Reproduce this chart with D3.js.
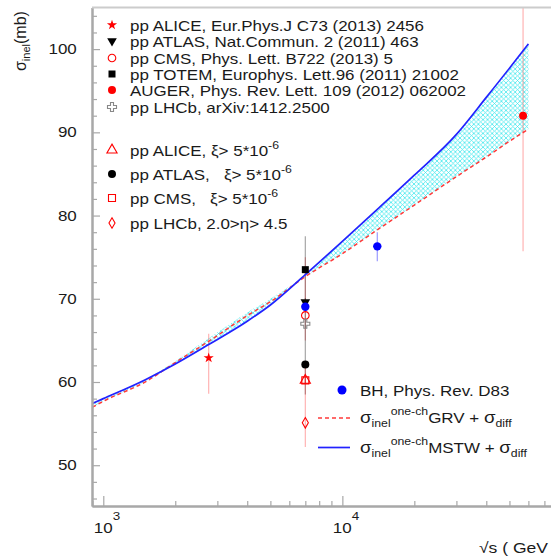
<!DOCTYPE html>
<html><head><meta charset="utf-8">
<script src="https://cdn.jsdelivr.net/npm/d3@7"></script>
<style>body{margin:0;background:#fff}svg{display:block;font-family:"Liberation Sans",Arial,Helvetica,sans-serif}text{white-space:pre}</style>
</head><body><svg id="c" width="551" height="559"></svg>
<script>
// ---- data ----
const energies   = [900,1000,1500,2000,2760,4000,5000,7000,10000,14000,20000,30000,40000,57000,60000];
const sigmaMSTW  = [57.42,58.0,60.28,62.16,64.5,67.3,69.25,72.9,76.9,80.74,84.85,89.75,94.2,99.8,100.63];
const sigmaGRV   = [56.97,57.68,60.02,62.34,64.89,67.97,69.65,72.66,75.42,78.28,81.26,84.68,87.03,89.98,90.36];
const bandUpper  = [57.42,58.0,60.3,62.5,65.25,68.35,70.0,72.9,76.9,80.74,84.85,89.75,94.2,99.8,100.63];

const ptEnergy = [2760,7000,7000,7000,57000,7000,7000,7000,7000,7000];
const ptSigma  = [62.9,69.6,68.0,73.5,92.0,67.0,60.2,62.1,60.2,55.1];
const ptErrLo  = [58.6,69.1,65.0,69.5,75.7,66.5,59.8,58.5,59.8,52.2];
const ptErrHi  = [65.8,70.1,75.0,77.5,106.0,67.5,60.6,69.5,60.6,62.0];
const ptLabels = [
  "pp ALICE, Eur.Phys.J C73 (2013) 2456",
  "pp ATLAS, Nat.Commun. 2 (2011) 463",
  "pp CMS, Phys. Lett. B722 (2013) 5",
  "pp TOTEM, Europhys. Lett.96 (2011) 21002",
  "AUGER, Phys. Rev. Lett. 109 (2012) 062002",
  "pp LHCb, arXiv:1412.2500",
  "pp ALICE, ξ> 5*10",
  "pp ATLAS,   ξ> 5*10",
  "pp CMS,   ξ> 5*10",
  "pp LHCb, 2.0>η> 4.5"
];
const ptSup = ["","","","","","","-6","-6","-6",""];

const bhEnergy = [7000,14000];
const bhSigma  = [69.05,76.3];
const bhErrLo  = [69.05,74.5];
const bhErrHi  = [69.05,78.0];

const yMajor = [50,60,70,80,90,100];
const yMinor = d3.range(46,105,2).filter(v=>v%10!==0);
const xMajor = [1000,10000];
const xMinor = [900,2000,3000,4000,5000,6000,7000,8000,9000,20000,30000,40000,50000,60000,70000];
const xMajorExp = ["3","4"];

// ---- styles per point ----
const RED="#ff0000", BLK="#000000", GRY="#888888", BLUE="#0000ff";
const ptStyle = [
  {sym:d3.symbolStar, size:32, fill:RED, stroke:"none", rot:0, err:RED},
  {sym:d3.symbolTriangle, size:40, fill:BLK, stroke:"none", rot:180, err:BLK},
  {sym:d3.symbolCircle, size:45, fill:"none", stroke:RED, rot:0, err:RED},
  {sym:d3.symbolSquare, size:49, fill:BLK, stroke:"none", rot:0, err:BLK},
  {sym:d3.symbolCircle, size:50, fill:RED, stroke:"none", rot:0, err:RED},
  {sym:d3.symbolCross, size:45, fill:"none", stroke:GRY, rot:0, err:GRY},
  {sym:d3.symbolTriangle, size:45, fill:"none", stroke:RED, rot:0, err:RED},
  {sym:d3.symbolCircle, size:50, fill:BLK, stroke:"none", rot:0, err:BLK},
  {sym:d3.symbolSquare, size:49, fill:"none", stroke:RED, rot:0, err:RED},
  {sym:d3.symbolDiamond, size:32, fill:"none", stroke:RED, rot:0, err:RED}
];

const SX=1.17, TXT="#1a1a1a";
const svg=d3.select("#c");
const L=92, R=551, T=7.5, B=506;
const x=d3.scaleLog().domain([897,74600]).range([L,R]);
const y=d3.scaleLinear().domain([45.1,105.0]).range([B,T]);

function stext(px,py,size){
  return svg.append("text").attr("transform",`translate(${px},${py}) scale(${SX},1)`)
    .attr("font-size",size).attr("fill",TXT);
}

const defs=svg.append("defs");
const pat=defs.append("pattern").attr("id","hatch").attr("patternUnits","userSpaceOnUse").attr("width",4.6).attr("height",4.6);
pat.append("path").attr("d","M0,0L4.6,4.6M4.6,0L0,4.6").attr("stroke","#44e8ee").attr("stroke-width",0.8).attr("fill","none");
defs.append("clipPath").attr("id","clip").append("rect").attr("x",L).attr("y",T).attr("width",R-L).attr("height",B-T);

const plot=svg.append("g").attr("clip-path","url(#clip)");
const curve=energies.map((e,i)=>({e, m:sigmaMSTW[i], g:sigmaGRV[i], hi:bandUpper[i], lo:Math.min(sigmaMSTW[i],sigmaGRV[i])}));
const cv=d3.curveMonotoneX;

plot.append("path").datum(curve).attr("fill","url(#hatch)")
  .attr("d",d3.area().x(d=>x(d.e)).y0(d=>y(d.lo)).y1(d=>y(d.hi)).curve(cv));

// error bars
const pts=ptEnergy.map((e,i)=>({e,s:ptSigma[i],lo:ptErrLo[i],hi:ptErrHi[i],st:ptStyle[i]}));
plot.selectAll(".err").data(pts).join("line")
  .attr("x1",d=>x(d.e)).attr("x2",d=>x(d.e)).attr("y1",d=>y(d.lo)).attr("y2",d=>y(d.hi))
  .attr("stroke",d=>d.st.err).attr("stroke-opacity",d=>d.st.err===RED?0.3:0.35).attr("stroke-width",1.2);
const bh=bhEnergy.map((e,i)=>({e,s:bhSigma[i],lo:bhErrLo[i],hi:bhErrHi[i]}));
plot.selectAll(".berr").data(bh).join("line")
  .attr("x1",d=>x(d.e)).attr("x2",d=>x(d.e)).attr("y1",d=>y(d.lo)).attr("y2",d=>y(d.hi))
  .attr("stroke",BLUE).attr("stroke-opacity",0.4).attr("stroke-width",1.2);

// curves
plot.append("path").datum(curve).attr("fill","none").attr("stroke","#ff3a3a").attr("stroke-width",1.5)
  .attr("stroke-dasharray","4,3")
  .attr("d",d3.line().x(d=>x(d.e)).y(d=>y(d.g)).curve(cv));
plot.append("path").datum(curve).attr("fill","none").attr("stroke","#2222ff").attr("stroke-width",1.7)
  .attr("d",d3.line().x(d=>x(d.e)).y(d=>y(d.m)).curve(cv));

// markers
function sym(st){return d3.symbol().type(st.sym).size(st.size)();}
plot.selectAll(".pt").data(pts).join("path")
  .attr("d",d=>sym(d.st))
  .attr("transform",d=>`translate(${x(d.e)},${y(d.s)}) rotate(${d.st.rot})`)
  .attr("fill",d=>d.st.fill).attr("stroke",d=>d.st.stroke).attr("stroke-width",1.1);
plot.selectAll(".bh").data(bh).join("circle")
  .attr("cx",d=>x(d.e)).attr("cy",d=>y(d.s)).attr("r",4.2).attr("fill",BLUE);

// axes
const axCol="#a8a8a8";
function styleAxis(g){g.select(".domain").attr("stroke",axCol).attr("stroke-width",2);
  g.selectAll(".tick line").attr("stroke",axCol).attr("stroke-width",1.2);}
svg.append("g").attr("transform",`translate(${L},0)`)
  .call(d3.axisLeft(y).tickValues(yMinor).tickSizeInner(-5).tickSizeOuter(0).tickFormat(""))
  .call(styleAxis);
const gyM=svg.append("g").attr("transform",`translate(${L},0)`)
  .call(d3.axisLeft(y).tickValues(yMajor).tickSizeInner(-8).tickSizeOuter(0).tickPadding(13).tickFormat(d3.format("d")))
  .call(styleAxis).attr("font-family",null).attr("font-size",null);
gyM.selectAll(".tick text").attr("fill",TXT).attr("font-size",14.5).attr("transform",`scale(${SX},1)`);
svg.append("g").attr("transform",`translate(0,${B})`)
  .call(d3.axisBottom(x).tickValues(xMinor).tickSizeInner(-5).tickSizeOuter(0).tickFormat(""))
  .call(styleAxis);
svg.append("g").attr("transform",`translate(0,${B})`)
  .call(d3.axisBottom(x).tickValues(xMajor).tickSizeInner(-10).tickSizeOuter(0).tickFormat(""))
  .call(styleAxis);
svg.append("line").attr("x1",L).attr("x2",R).attr("y1",T).attr("y2",T).attr("stroke","#cccccc").attr("stroke-width",2);

xMajor.forEach((v,i)=>{
  const t=stext(x(v)-9.5,533,14.5);
  t.append("tspan").text("10");
  t.append("tspan").attr("dy",-13).attr("font-size",11.5).text(xMajorExp[i]);
});
stext(548,553,15).attr("text-anchor","end").text("√s ( GeV");

const yt=svg.append("text").attr("transform","translate(26,71) rotate(-90)").attr("font-size",16).attr("fill",TXT);
yt.append("tspan").text("σ");
yt.append("tspan").attr("dy",4).attr("font-size",11).text("inel");
yt.append("tspan").attr("dy",-4).text("(mb)");

// top legend
const legRows=[25,41,58,74,90,107,150,174,198,223];
pts.forEach((d,i)=>{
  svg.append("path").attr("d",sym(d.st)).attr("transform",`translate(112,${legRows[i]}) rotate(${d.st.rot})`)
    .attr("fill",d.st.fill).attr("stroke",d.st.stroke).attr("stroke-width",1.1);
  const t=stext(130,legRows[i]+5.5,14.5);
  t.append("tspan").text(ptLabels[i]);
  if(ptSup[i]) t.append("tspan").attr("dy",-7).attr("font-size",10.5).text(ptSup[i]);
});

// bottom legend
svg.append("circle").attr("cx",342).attr("cy",390).attr("r",4.5).attr("fill",BLUE);
stext(360,396,14.5).text("BH, Phys. Rev. D83");
svg.append("line").attr("x1",318).attr("x2",350).attr("y1",418).attr("y2",418).attr("stroke","#ff3a3a").attr("stroke-width",1.5).attr("stroke-dasharray","4,3");
svg.append("line").attr("x1",318).attr("x2",350).attr("y1",447.5).attr("y2",447.5).attr("stroke","#2222ff").attr("stroke-width",1.7);
function modelLabel(yb,name){
  const t=stext(360,yb,14.5);
  t.append("tspan").attr("font-size",16).text("σ");
  t.append("tspan").attr("dy",4).attr("font-size",10.5).text("inel");
  t.append("tspan").attr("dy",-12).attr("font-size",10.5).text("one-ch");
  t.append("tspan").attr("dy",8).text(name+" + ");
  t.append("tspan").attr("font-size",16).text("σ");
  t.append("tspan").attr("dy",4).attr("font-size",10.5).text("diff");
}
modelLabel(423,"GRV");
modelLabel(453,"MSTW");
</script></body></html>
